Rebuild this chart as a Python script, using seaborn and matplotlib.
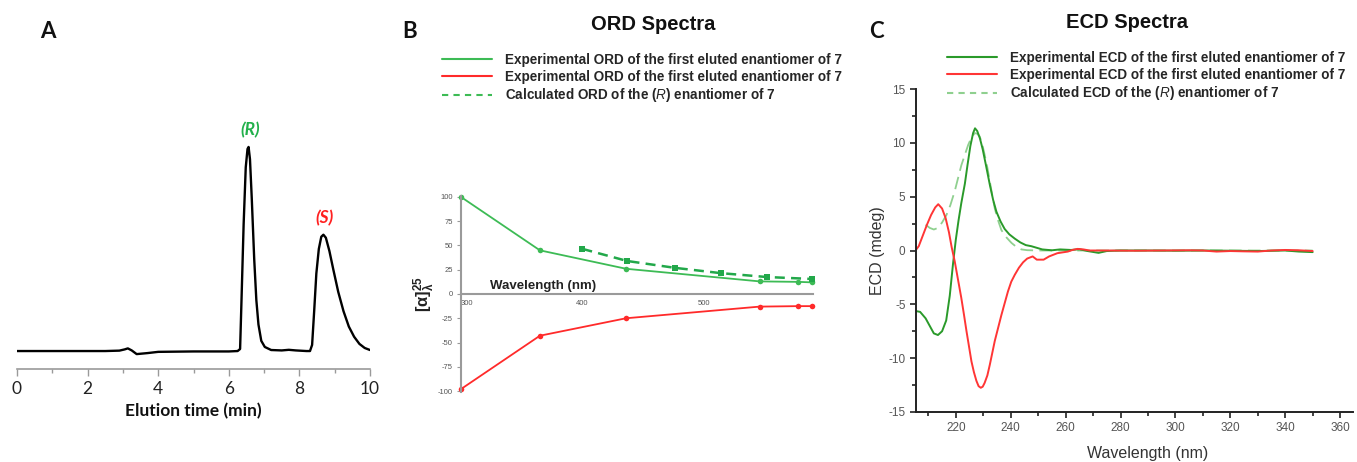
import numpy as np
import pandas as pd
import seaborn as sns
import matplotlib
matplotlib.use("Agg")
import matplotlib.pyplot as plt
from matplotlib.lines import Line2D
from matplotlib.ticker import MultipleLocator, FixedLocator

# ---------------- data ----------------
# Panel A: chiral HPLC chromatogram
hplc_time = [0.0, 1.0, 2.0, 2.5, 2.9, 3.05, 3.14, 3.25, 3.39, 3.7, 4.0, 5.0, 6.0, 6.25,
             6.32, 6.36, 6.42, 6.48, 6.53, 6.56, 6.60, 6.65, 6.72, 6.78, 6.84, 6.92, 7.02,
             7.2, 7.5, 7.7, 7.9, 8.2, 8.30, 8.36, 8.42, 8.48, 8.55, 8.62, 8.68, 8.75, 8.85,
             8.96, 9.10, 9.25, 9.40, 9.55, 9.70, 9.85, 10.0]
hplc_signal = [0.0, 0.0, 0.0, 0.0, 0.2, 0.8, 1.3, 0.3, -1.5, -1.0, -0.4, -0.2, -0.2, 0.0,
               1.0, 25.0, 62.0, 90.0, 99.0, 100.0, 94.0, 75.0, 45.0, 25.0, 13.0, 5.0, 2.0,
               0.5, 0.3, 0.6, 0.3, 0.0, 0.0, 3.0, 20.0, 38.0, 50.0, 56.0, 57.0, 55.5, 49.0,
               40.0, 29.0, 19.5, 12.0, 7.0, 3.5, 1.5, 0.5]
hplc_ticks = [0, 2, 4, 6, 8, 10]

# Panel B: ORD
ord_exp_wl = [300, 365, 436, 546, 578, 589]
ord_exp_green = [100, 45, 26, 13, 12.5, 12]
ord_exp_red = [-98, -43, -25, -13, -12.5, -12.5]
ord_calc_wl = [400, 437, 476, 514, 552, 589]
ord_calc_val = [46.5, 34, 27, 21.5, 17.5, 15.5]
ord_yticks = [-100, -75, -50, -25, 0, 25, 50, 75, 100]
ord_xticks = [300, 400, 500]

# Panel C: ECD
ecd_green_wl = [205, 207, 209, 210.5, 212, 213.5, 215, 216.5, 217.8, 219, 220, 221, 222,
                223.3, 224.3, 225.3, 226.3, 227, 227.8, 228.8, 229.8, 231, 232.4, 233.6,
                234.8, 236.3, 237.8, 239.5, 241.5, 243.5, 245.5, 247.5, 249.5, 251.5, 255,
                258, 262, 265, 268, 272, 275, 280, 290, 300, 310, 320, 330, 340, 345, 350]
ecd_green_val = [-5.6, -5.7, -6.3, -7.0, -7.7, -7.85, -7.5, -6.5, -4.2, -1.2, 1.0, 2.8, 4.4,
                 6.2, 8.0, 9.7, 10.9, 11.35, 11.1, 10.4, 9.4, 7.9, 6.1, 4.7,
                 3.6, 2.7, 2.0, 1.5, 1.1, 0.75, 0.5, 0.4, 0.25, 0.1, 0.02,
                 0.1, 0.05, 0.12, -0.05, -0.22, -0.05, 0.0, 0.0, -0.02, 0.0, -0.02, -0.05, 0.0, -0.1, -0.15]
ecd_red_wl = [205, 206.5, 208, 209.5, 211, 212.5, 213.6, 215, 216.3, 217.5, 218.5, 219.6,
              220.8, 222, 223, 223.9, 224.8, 225.7, 226.6, 227.5, 228.3, 229.1, 229.8, 230.5,
              231.5, 232.4, 233.3, 234.2, 235.4, 236.6, 237.8, 239, 240.2, 241.5, 243, 244.5,
              246, 248, 249.5, 252, 254, 257, 260.8, 262.5, 264.4, 266.5, 268.7, 275, 285,
              295, 305, 310, 315, 320, 325, 330, 335, 340, 345, 350]
ecd_red_val = [-0.1, 0.4, 1.4, 2.4, 3.3, 4.0, 4.3, 3.9, 3.0, 1.7, 0.3, -1.0,
               -2.7, -4.4, -6.0, -7.5, -8.9, -10.3, -11.3, -12.1, -12.6, -12.75, -12.65, -12.3,
               -11.6, -10.6, -9.5, -8.4, -7.2, -6.0, -4.9, -3.8, -2.9, -2.25, -1.6, -1.1,
               -0.75, -0.55, -0.85, -0.85, -0.55, -0.25, -0.1, 0.05, 0.15, 0.1, 0.0, 0.0, -0.02,
               0.0, 0.02, 0.0, -0.1, -0.05, -0.08, -0.1, 0.0, 0.05, 0.02, -0.05]
ecd_calc_wl = [209, 210.5, 212, 213.5, 215, 216.6, 218, 219.6, 221, 222, 223.3, 224.5,
               225.7, 226.9, 227.8, 228.7, 229.6, 230.5, 231.5, 232.4, 233.3, 234.2, 235.4,
               236.6, 238.5, 240.3, 242, 243.9, 246, 250, 260, 300, 350]
ecd_calc_val = [2.4, 2.1, 1.95, 2.1, 2.6, 3.3, 4.2, 5.5, 6.9, 7.9, 8.9, 9.8,
                10.5, 10.9, 10.85, 10.6, 9.9, 8.9, 7.7, 6.4, 5.1, 3.9, 2.8,
                1.9, 1.2, 0.7, 0.35, 0.1, 0.03, 0.0, 0.0, 0.0, 0.0]
ecd_xticks = [220, 240, 260, 280, 300, 320, 340, 360]
ecd_yticks = [-15, -10, -5, 0, 5, 10, 15]

ord_legend = ["Experimental ORD of the first eluted enantiomer of 7",
              "Experimental ORD of the first eluted enantiomer of 7",
              r"Calculated ORD of the ($\mathit{R}$) enantiomer of 7"]
ecd_legend = ["Experimental ECD of the first eluted enantiomer of 7",
              "Experimental ECD of the first eluted enantiomer of 7",
              r"Calculated ECD of the ($\mathit{R}$) enantiomer of 7"]

# ---------------- style ----------------
sns.set_theme(style="white")
plt.rcParams['font.family'] = ['Liberation Sans', 'DejaVu Sans']
plt.rcParams['mathtext.fontset'] = 'custom'
plt.rcParams['mathtext.it'] = 'Liberation Sans:italic'
plt.rcParams['mathtext.rm'] = 'Liberation Sans'
plt.rcParams['mathtext.bf'] = 'Liberation Sans:bold'
plt.rcParams['axes.unicode_minus'] = False

W, H = 1357, 462
fig = plt.figure(figsize=(W / 100, H / 100), dpi=100)


def box(l, r, t, b):
    return [l / W, (H - b) / H, (r - l) / W, (b - t) / H]


ORD_G = "#3dbb55"
ORD_R = "#ff2a2a"
ORD_C = "#22a84a"
ECD_G = "#2a9a2a"
ECD_R = "#ff3535"
ECD_C = "#8fd08f"

# ---------------- Panel A ----------------
axA = fig.add_axes(box(17, 370, 100, 369))
dfA = pd.DataFrame({"t": hplc_time, "s": hplc_signal})
sns.lineplot(data=dfA, x="t", y="s", color="black", linewidth=1.7, ax=axA)
axA.set_xlim(0, 10)
axA.set_ylim(-8.8, 123)
for s in ["left", "right", "top"]:
    axA.spines[s].set_visible(False)
axA.spines["bottom"].set_color("#9a9a9a")
axA.spines["bottom"].set_linewidth(1.2)
axA.set_yticks([])
axA.xaxis.set_major_locator(FixedLocator(hplc_ticks))
axA.xaxis.set_minor_locator(MultipleLocator(1))
axA.tick_params(axis="x", which="major", bottom=True, length=5, width=1, color="#9a9a9a",
                pad=4, labelsize=12.5, labelcolor="#222222")
axA.tick_params(axis="x", which="minor", bottom=True, length=3, width=1, color="#9a9a9a")
for lab in axA.get_xticklabels():
    lab.set_fontfamily("Lato")
axA.set_xlabel("Elution time (min)", fontsize=12.5, fontweight="bold", family="Lato",
               labelpad=4, color="#111111")
axA.set_ylabel("")
axA.text(6.6, 108, "(R)", color="#22b04b", fontsize=12.5, fontweight="bold",
         style="italic", family="Lato", ha="center", va="center")
axA.text(8.7, 65, "(S)", color="#ff2020", fontsize=12.5, fontweight="bold",
         style="italic", family="Lato", ha="center", va="center")

# ---------------- Panel B ----------------
axB = fig.add_axes(box(461, 813, 196, 392))
sns.lineplot(x=ord_exp_wl, y=ord_exp_green, color=ORD_G, linewidth=1.3, marker="o",
             markersize=4, markeredgewidth=0, ax=axB)
sns.lineplot(x=ord_exp_wl, y=ord_exp_red, color=ORD_R, linewidth=1.3, marker="o",
             markersize=4, markeredgewidth=0, ax=axB)
sns.lineplot(x=ord_calc_wl, y=ord_calc_val, color=ORD_C, linewidth=1.8, linestyle=(0, (4, 2.5)),
             marker="s", markersize=5, markeredgewidth=0, ax=axB)
for ln in axB.lines:
    ln.set_clip_on(False)
axB.set_xlim(300, 590)
axB.set_ylim(-101, 101)
axB.spines["top"].set_visible(False)
axB.spines["right"].set_visible(False)
axB.spines["bottom"].set_position(("data", 0))
for s in ["left", "bottom"]:
    axB.spines[s].set_color("#9a9a9a")
    axB.spines[s].set_linewidth(1.5)
axB.set_yticks(ord_yticks)
axB.set_xticks(ord_xticks)
axB.tick_params(axis="y", left=True, length=3, width=0.8, color="#9a9a9a", pad=3,
                labelsize=5.5, labelcolor="#555555")
axB.tick_params(axis="x", bottom=False, length=0, pad=4, labelsize=5.5, labelcolor="#555555")
xl = axB.get_xticklabels()
xl[0].set_horizontalalignment("left")
axB.set_xlabel("")
axB.set_ylabel(r"$\mathbf{[\alpha]^{25}_{\lambda}}$", fontsize=12, color="#222222")
axB.yaxis.set_label_coords(-0.072, 0.5)
axB.text(0.233, 0.54, "Wavelength (nm)", transform=axB.transAxes, ha="center", va="center",
         fontsize=9.5, fontweight="bold", color="#222222")

legprops = {"family": "Liberation Sans", "weight": "bold", "size": 9.75}
hB = [Line2D([], [], color=ORD_G, lw=1.5),
      Line2D([], [], color=ORD_R, lw=1.5),
      Line2D([], [], color=ORD_G, lw=1.5, ls=(0, (3, 2.5)))]
legB = fig.legend(hB, ord_legend, loc="upper left", bbox_to_anchor=(442 / W, 1 - 53 / H),
                  frameon=False, borderpad=0, borderaxespad=0, handlelength=3.7,
                  handletextpad=0.95, labelspacing=0.2, prop=legprops)

# ---------------- Panel C ----------------
axC = fig.add_axes(box(916, 1353, 89, 412))
sns.lineplot(x=ecd_calc_wl, y=ecd_calc_val, color=ECD_C, linewidth=1.3,
             linestyle=(0, (7, 3.5)), ax=axC)
sns.lineplot(x=ecd_green_wl, y=ecd_green_val, color=ECD_G, linewidth=1.4, ax=axC)
sns.lineplot(x=ecd_red_wl, y=ecd_red_val, color=ECD_R, linewidth=1.4, ax=axC)
axC.set_xlim(205.5, 364.7)
axC.set_ylim(-15, 15)
axC.spines["top"].set_visible(False)
axC.spines["right"].set_visible(False)
for s in ["left", "bottom"]:
    axC.spines[s].set_color("#222222")
    axC.spines[s].set_linewidth(1.4)
axC.xaxis.set_major_locator(FixedLocator(ecd_xticks))
axC.xaxis.set_minor_locator(MultipleLocator(10))
axC.yaxis.set_major_locator(FixedLocator(ecd_yticks))
axC.yaxis.set_minor_locator(MultipleLocator(2.5))
axC.tick_params(axis="both", which="major", direction="out", length=4, width=1.2,
                color="#222222", labelsize=8.5, labelcolor="#555555", left=True, bottom=True)
axC.tick_params(axis="both", which="minor", direction="out", length=3, width=1.2,
                color="#222222", left=True, bottom=True)
axC.set_xlabel("Wavelength (nm)", fontsize=11.5, color="#333333")
axC.set_ylabel("ECD (mdeg)", fontsize=11.5, color="#333333")
axC.xaxis.set_label_coords(0.529, -0.105)
axC.yaxis.set_label_coords(-0.071, 0.5)

hC = [Line2D([], [], color=ECD_G, lw=1.5),
      Line2D([], [], color=ECD_R, lw=1.5),
      Line2D([], [], color=ECD_C, lw=1.5, ls=(0, (3, 2.5)))]
legC = fig.legend(hC, ecd_legend, loc="upper left", bbox_to_anchor=(947 / W, 1 - 51 / H),
                  frameon=False, borderpad=0, borderaxespad=0, handlelength=3.7,
                  handletextpad=0.95, labelspacing=0.2, prop=legprops)

# ---------------- titles and panel letters ----------------
fig.text(653 / W, 1 - 24 / H, "ORD Spectra", ha="center", va="center", fontsize=14.5,
         fontweight="bold", color="#111111")
fig.text(1127 / W, 1 - 22 / H, "ECD Spectra", ha="center", va="center", fontsize=14.5,
         fontweight="bold", color="#111111")
for x, y, t in [(48, 32, "A"), (410, 31, "B"), (876, 31, "C")]:
    fig.text(x / W, 1 - y / H, t, ha="center", va="center", fontsize=16, fontweight="bold",
             family="Lato", color="#111111")

fig.savefig("out.png", dpi=100)
